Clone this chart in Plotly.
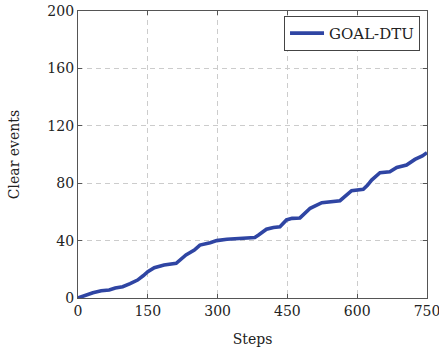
import plotly.graph_objects as go

# Cumulative clear events over training steps
steps = [0, 15, 32, 50, 67, 80, 96, 112, 128, 140, 150, 164, 185, 211, 222, 232, 250, 262,
         284, 298, 320, 362, 380, 388, 405, 420, 434, 448, 460, 477, 487, 499, 512, 524, 563,
         575, 588, 613, 622, 631, 649, 670, 685, 706, 724, 740, 750]
clear_events = [0, 2, 3.7, 5, 5.6, 7, 7.9, 10, 12.5, 15.5, 18.3, 21.1, 23, 24.2, 27, 30, 33.4, 36.9,
                38.5, 40, 40.9, 41.6, 42.2, 43.9, 47.9, 49.2, 49.7, 54.4, 55.5, 55.8, 59, 62.5, 64.5, 66.4, 67.8,
                71, 74.8, 75.7, 78.5, 82.2, 87.3, 88, 91, 92.7, 96.6, 99, 101.3]

x_ticks = [0, 150, 300, 450, 600, 750]
y_ticks = [0, 40, 80, 120, 160, 200]

font_family = "DejaVu Serif"
axis_color = "#555555"
grid_color = "#cccccc"

fig = go.Figure()
fig.add_trace(go.Scatter(
    x=steps, y=clear_events, mode="lines", name="GOAL-DTU",
    line=dict(color="#2f45a3", width=3.6),
))

common_axis = dict(
    showline=True, linecolor=axis_color, linewidth=1.2, mirror="ticks",
    ticks="inside", ticklen=4, tickcolor=axis_color, tickwidth=1,
    showgrid=True, gridcolor=grid_color, griddash="5px,4px", gridwidth=1,
    zeroline=False, automargin=False, ticklabeloverflow="allow",
    tickfont=dict(family=font_family, size=14, color="#222222"),
)

fig.update_layout(
    width=439, height=352,
    margin=dict(l=78, r=12, t=11, b=54, autoexpand=False),
    paper_bgcolor="white", plot_bgcolor="white",
    font=dict(family=font_family, color="#222222"),
    xaxis=dict(range=[0, 750], tickvals=x_ticks,
               title=dict(text="Steps", font=dict(family=font_family, size=14), standoff=16),
               **common_axis),
    yaxis=dict(range=[0, 200], tickvals=y_ticks,
               title=dict(text="Clear events", font=dict(family=font_family, size=14), standoff=24),
               **common_axis),
    showlegend=True,
    legend=dict(x=0.98, y=0.983, xanchor="right", yanchor="top",
                bordercolor="#444444", borderwidth=1, bgcolor="white",
                font=dict(family=font_family, size=15, color="#222222"),
                itemwidth=34),
)

fig.write_html("out.html")
